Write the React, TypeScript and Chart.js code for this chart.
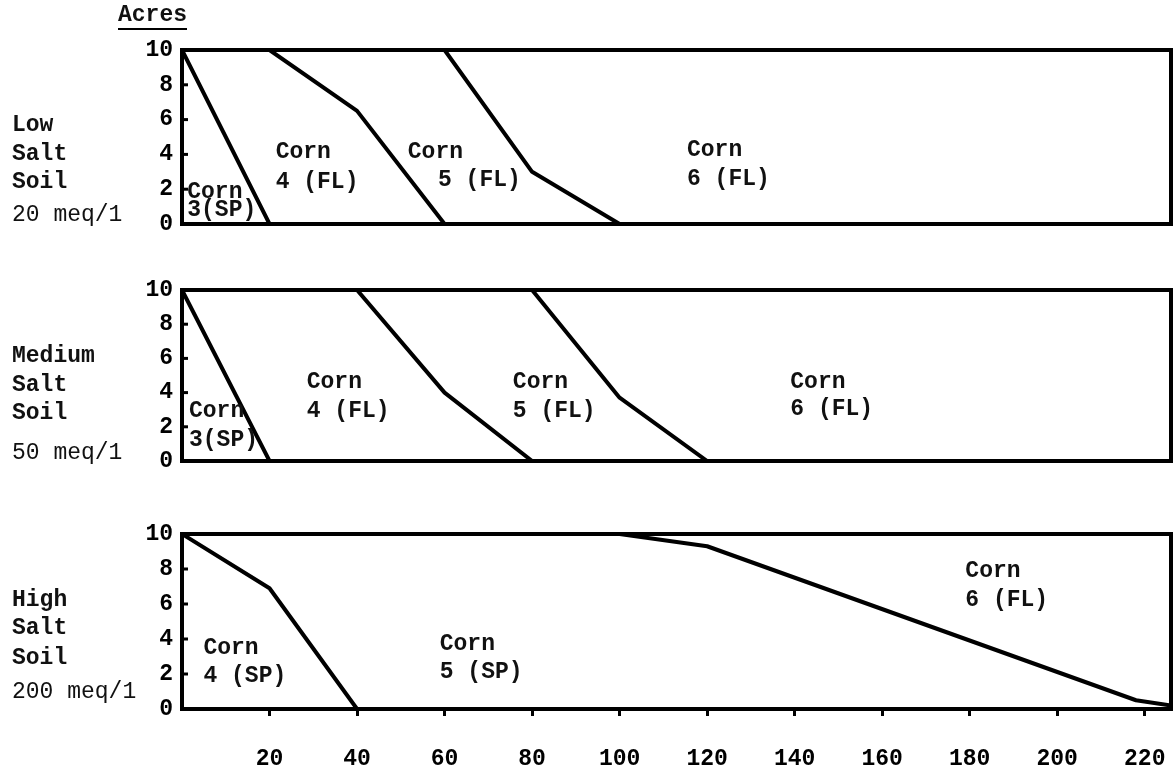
import React, { useEffect, useRef } from 'react';
import { Chart, registerables } from 'chart.js';

Chart.register(...registerables);

// ---- axes ----
const X_MIN = 0;
const X_MAX = 226;
const X_TICKS = [20, 40, 60, 80, 100, 120, 140, 160, 180, 200, 220];
const Y_TICKS = [0, 2, 4, 6, 8, 10];

// ---- Low salt soil (20 meq/1) boundary lines ----
const LOW_B1_X = [0, 20];
const LOW_B1_Y = [10, 0];
const LOW_B2_X = [20, 40, 60];
const LOW_B2_Y = [10, 6.5, 0];
const LOW_B3_X = [60, 80, 100];
const LOW_B3_Y = [10, 3, 0];

// ---- Medium salt soil (50 meq/1) boundary lines ----
const MED_B1_X = [0, 20];
const MED_B1_Y = [10, 0];
const MED_B2_X = [40, 60, 80];
const MED_B2_Y = [10, 4, 0];
const MED_B3_X = [80, 100, 120];
const MED_B3_Y = [10, 3.7, 0];

// ---- High salt soil (200 meq/1) boundary lines ----
const HIGH_B1_X = [0, 20, 40];
const HIGH_B1_Y = [10, 6.9, 0];
const HIGH_B2_X = [100, 120, 218, 226];
const HIGH_B2_Y = [10, 9.3, 0.5, 0.2];

// ---- region labels: [x, y, text] in data units ----
const LOW_REGION_LABELS: [number, number, string][] = [
  [1.2, 1.8, 'Corn'], [1.2, 0.8, '3(SP)'],
  [21.4, 4.1, 'Corn'], [21.4, 2.4, '4 (FL)'],
  [51.6, 4.1, 'Corn'], [58.5, 2.5, '5 (FL)'],
  [115.4, 4.25, 'Corn'], [115.4, 2.6, '6 (FL)'],
];
const MED_REGION_LABELS: [number, number, string][] = [
  [1.6, 2.9, 'Corn'], [1.6, 1.2, '3(SP)'],
  [28.5, 4.6, 'Corn'], [28.5, 2.9, '4 (FL)'],
  [75.6, 4.6, 'Corn'], [75.6, 2.9, '5 (FL)'],
  [139, 4.6, 'Corn'], [139, 3.0, '6 (FL)'],
];
const HIGH_REGION_LABELS: [number, number, string][] = [
  [4.9, 3.5, 'Corn'], [4.9, 1.9, '4 (SP)'],
  [58.9, 3.7, 'Corn'], [58.9, 2.1, '5 (SP)'],
  [179, 7.9, 'Corn'], [179, 6.2, '6 (FL)'],
];

// ---- panel side labels: [y, text, bold] ----
const LOW_SIDE: [number, string, boolean][] = [
  [5.7, 'Low', true], [4.0, 'Salt', true], [2.4, 'Soil', true], [0.5, '20 meq/1', false],
];
const MED_SIDE: [number, string, boolean][] = [
  [6.1, 'Medium', true], [4.45, 'Salt', true], [2.8, 'Soil', true], [0.47, '50 meq/1', false],
];
const HIGH_SIDE: [number, string, boolean][] = [
  [6.2, 'High', true], [4.6, 'Salt', true], [2.9, 'Soil', true], [1.0, '200 meq/1', false],
];

const Y_TITLE = 'Acres';

const W = 1176;
const H = 773;
const FONT = '"Liberation Mono", "DejaVu Sans Mono", monospace';
const FS = 23;

function pts(xs: number[], ys: number[]) {
  return xs.map((x, i) => ({ x, y: ys[i] }));
}

type Panel = {
  lines: [number[], number[]][];
  region: [number, number, string][];
  side: [number, string, boolean][];
  top: number;
  bottom: number;
  showX: boolean;
  title: boolean;
};

const PANELS: Panel[] = [
  {
    lines: [[LOW_B1_X, LOW_B1_Y], [LOW_B2_X, LOW_B2_Y], [LOW_B3_X, LOW_B3_Y]],
    region: LOW_REGION_LABELS, side: LOW_SIDE, top: 50, bottom: 224, showX: false, title: true,
  },
  {
    lines: [[MED_B1_X, MED_B1_Y], [MED_B2_X, MED_B2_Y], [MED_B3_X, MED_B3_Y]],
    region: MED_REGION_LABELS, side: MED_SIDE, top: 290, bottom: 461, showX: false, title: false,
  },
  {
    lines: [[HIGH_B1_X, HIGH_B1_Y], [HIGH_B2_X, HIGH_B2_Y]],
    region: HIGH_REGION_LABELS, side: HIGH_SIDE, top: 534, bottom: 709, showX: true, title: false,
  },
];

const X_AXIS_H = 60;

function makeChart(canvas: HTMLCanvasElement, p: Panel) {
  const decor = {
    id: 'decor',
    afterDatasetsDraw(chart: any) {
      const { ctx, chartArea } = chart;
      const xs = chart.scales.x;
      const ys = chart.scales.y;
      ctx.save();
      // frame
      ctx.strokeStyle = '#000';
      ctx.lineWidth = 4;
      ctx.strokeRect(chartArea.left, chartArea.top, chartArea.right - chartArea.left, chartArea.bottom - chartArea.top);
      // inner y tick marks
      ctx.lineWidth = 3;
      Y_TICKS.forEach((v) => {
        const py = ys.getPixelForValue(v);
        ctx.beginPath();
        ctx.moveTo(chartArea.left, py);
        ctx.lineTo(chartArea.left + 6, py);
        ctx.stroke();
      });
      // region labels
      ctx.fillStyle = '#111';
      ctx.textAlign = 'left';
      ctx.textBaseline = 'middle';
      ctx.font = `bold ${FS}px ${FONT}`;
      p.region.forEach(([x, y, t]) => {
        ctx.fillText(t, xs.getPixelForValue(x), ys.getPixelForValue(y));
      });
      // side labels
      p.side.forEach(([y, t, b]) => {
        ctx.font = `${b ? 'bold ' : ''}${FS}px ${FONT}`;
        ctx.fillText(t, 12, ys.getPixelForValue(y));
      });
      if (p.title) {
        ctx.font = `bold ${FS}px ${FONT}`;
        const tx = 118;
        const ty = 15;
        ctx.fillText(Y_TITLE, tx, ty);
        const w = ctx.measureText(Y_TITLE).width;
        ctx.lineWidth = 2;
        ctx.beginPath();
        ctx.moveTo(tx, 29);
        ctx.lineTo(tx + w, 29);
        ctx.stroke();
      }
      ctx.restore();
    },
  };

  const datasets = p.lines.map(([xs, ys]) => ({
    data: pts(xs, ys),
    borderColor: '#000',
    borderWidth: 4,
    pointRadius: 0,
    tension: 0,
    fill: false,
    borderJoinStyle: 'round' as const,
    borderCapStyle: 'round' as const,
  }));

  const bottomPad = p.showX ? H - p.bottom - X_AXIS_H : H - p.bottom;

  return new Chart(canvas, {
    type: 'line',
    data: { datasets },
    plugins: [decor],
    options: {
      responsive: false,
      animation: false,
      events: [],
      layout: { padding: { left: 0, right: 5, top: p.top, bottom: bottomPad } },
      plugins: { legend: { display: false }, tooltip: { enabled: false } },
      scales: {
        x: {
          type: 'linear',
          min: X_MIN,
          max: X_MAX,
          display: p.showX,
          afterBuildTicks: (s: any) => { s.ticks = X_TICKS.map((v) => ({ value: v })); },
          afterFit: (s: any) => {
            if (p.showX) s.height = X_AXIS_H; else s.height = 0;
            s.paddingLeft = 0;
            s.paddingRight = 0;
          },
          border: { display: false },
          grid: { display: true, drawOnChartArea: false, drawTicks: true, tickLength: 7, tickWidth: 3, color: '#000' },
          ticks: {
            color: '#000',
            padding: 29,
            maxRotation: 0,
            autoSkip: false,
            font: { family: FONT, size: FS, weight: 'bold' },
          },
        },
        y: {
          type: 'linear',
          min: 0,
          max: 10,
          afterBuildTicks: (s: any) => { s.ticks = Y_TICKS.map((v) => ({ value: v })); },
          afterFit: (s: any) => { s.width = 182; s.paddingTop = 0; s.paddingBottom = 0; },
          border: { display: false },
          grid: { display: false, drawTicks: false },
          ticks: {
            color: '#000',
            padding: 9,
            autoSkip: false,
            font: { family: FONT, size: FS, weight: 'bold' },
          },
        },
      },
    },
  } as any);
}

export default function App() {
  const r0 = useRef<HTMLCanvasElement>(null);
  const r1 = useRef<HTMLCanvasElement>(null);
  const r2 = useRef<HTMLCanvasElement>(null);

  useEffect(() => {
    const refs = [r0, r1, r2];
    const charts = PANELS.map((p, i) => makeChart(refs[i].current as HTMLCanvasElement, p));
    return () => charts.forEach((c) => c.destroy());
  }, []);

  const st: React.CSSProperties = { position: 'absolute', left: 0, top: 0, width: W, height: H };
  return (
    <div style={{ position: 'fixed', left: 0, top: 0, width: W, height: H, background: '#fff' }}>
      <canvas ref={r0} width={W} height={H} style={st} />
      <canvas ref={r1} width={W} height={H} style={st} />
      <canvas ref={r2} width={W} height={H} style={st} />
    </div>
  );
}
